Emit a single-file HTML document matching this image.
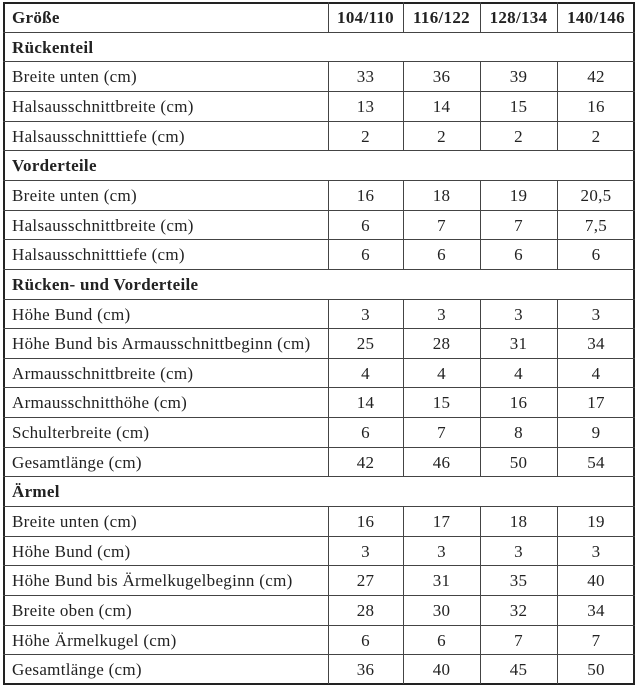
<!DOCTYPE html><html><head><meta charset="utf-8"><style>
body{margin:0;width:638px;height:687px;background:#fff;position:relative;font-family:"Liberation Serif","DejaVu Serif",serif;color:#222;overflow:hidden}
.box{position:absolute;left:3px;top:2px;width:628px;height:679px;border:2px solid #222}
.h{position:absolute;left:3px;width:632px;height:0;border-top:1.5px solid #444}
.v{position:absolute;width:0;border-left:1.5px solid #444}
.t{position:absolute;font-size:17px;letter-spacing:0.3px;line-height:29px;white-space:nowrap}
.c{text-align:center;width:74px}
b{font-weight:bold}
</style></head><body><div class="box"></div>
<div id="g"></div>
<script>
const rows=[["Größe","104/110","116/122","128/134","140/146",2],["Rückenteil",1],
["Breite unten (cm)","33","36","39","42"],["Halsausschnittbreite (cm)","13","14","15","16"],["Halsausschnitttiefe (cm)","2","2","2","2"],
["Vorderteile",1],["Breite unten (cm)","16","18","19","20,5"],["Halsausschnittbreite (cm)","6","7","7","7,5"],["Halsausschnitttiefe (cm)","6","6","6","6"],
["Rücken- und Vorderteile",1],["Höhe Bund (cm)","3","3","3","3"],["Höhe Bund bis Armausschnittbeginn (cm)","25","28","31","34"],["Armausschnittbreite (cm)","4","4","4","4"],["Armausschnitthöhe (cm)","14","15","16","17"],["Schulterbreite (cm)","6","7","8","9"],["Gesamtlänge (cm)","42","46","50","54"],
["Ärmel",1],["Breite unten (cm)","16","17","18","19"],["Höhe Bund (cm)","3","3","3","3"],["Höhe Bund bis Ärmelkugelbeginn (cm)","27","31","35","40"],["Breite oben (cm)","28","30","32","34"],["Höhe Ärmelkugel (cm)","6","6","7","7"],["Gesamtlänge (cm)","36","40","45","50"]];
const xs=[3,328,403,480,557,635];let h="";const p=29.65;
rows.forEach((r,i)=>{const y=2+i*p;
if(i>0)h+=`<div class="h" style="top:${y}px"></div>`;
const sec=r.length==2&&r[1]===1;
h+=`<div class="t" style="left:12px;top:${y+1}px">${(i==0||sec)?'<b>'+r[0]+'</b>':r[0]}</div>`;
if(!sec){for(let k=1;k<5;k++){h+=`<div class="v" style="left:${xs[k]}px;top:${y}px;height:${p}px"></div>`;
h+=`<div class="t c" style="left:${xs[k]}px;width:${xs[k+1]-xs[k]}px;top:${y+1}px">${i==0?'<b>'+r[k]+'</b>':r[k]}</div>`;}}
});
document.getElementById('g').innerHTML=h;
</script></body></html>
